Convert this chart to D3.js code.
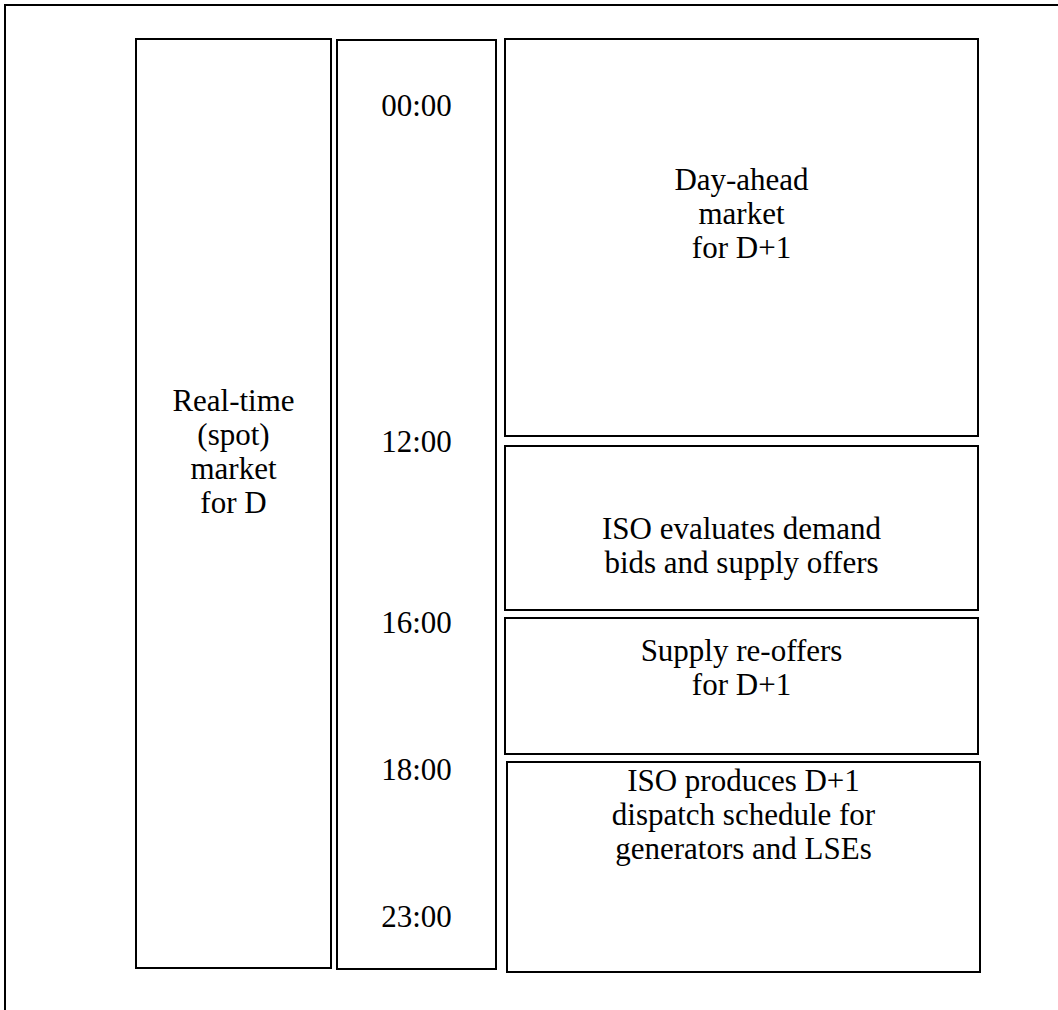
<!DOCTYPE html>
<html>
<head>
<meta charset="utf-8">
<script src="https://cdn.jsdelivr.net/npm/d3@7"></script>
<style>
  html, body { margin: 0; padding: 0; background: #fff; }
  svg { display: block; }
</style>
</head>
<body>
<svg id="chart" width="1058" height="1010"></svg>
<script>
"use strict";

// data
const timeLabels = ['00:00', '12:00', '16:00', '18:00', '23:00'];
const timeHours  = [0, 12, 16, 18, 23];
const spotLines  = ['Real-time', '(spot)', 'market', 'for D'];
const stageNames = ['dayAhead', 'evaluate', 'reoffer', 'dispatch'];
const stageLines = [
  ['Day-ahead', 'market', 'for D+1'],
  ['ISO evaluates demand', 'bids and supply offers'],
  ['Supply re-offers', 'for D+1'],
  ['ISO produces D+1', 'dispatch schedule for', 'generators and LSEs']
];

// layout (pixels)
const layout = {
  outer: { x: 5, y: 5, w: 1100, h: 1100 },
  spot:  { x0: 136, x1: 331, y0: 39, y1: 968, textTop: 411 },
  time:  { x0: 337, x1: 496, y0: 40, y1: 969 },
  stages: [
    { x0: 505, x1: 978, y0: 39,  y1: 436, textTop: 190 },
    { x0: 505, x1: 978, y0: 446, y1: 610, textTop: 539 },
    { x0: 505, x1: 978, y0: 618, y1: 754, textTop: 661 },
    { x0: 507, x1: 980, y0: 762, y1: 972, textTop: 791 }
  ],
  lineGap: 34
};

const FONT = '"Liberation Serif", serif';
const svg = d3.select('#chart');

function box(g, b) {
  g.append('rect')
    .attr('x', b.x0).attr('y', b.y0)
    .attr('width', b.x1 - b.x0).attr('height', b.y1 - b.y0)
    .attr('fill', 'none').attr('stroke', '#000').attr('stroke-width', 2);
}

function textBlock(g, lines, cx, top) {
  g.selectAll(null).data(lines).enter().append('text')
    .attr('x', cx)
    .attr('y', (d, i) => top + i * layout.lineGap)
    .attr('text-anchor', 'middle')
    .style('font-family', FONT)
    .style('font-size', '31px')
    .attr('fill', '#000')
    .text(d => d);
}

// outer frame
svg.append('rect')
  .attr('x', layout.outer.x).attr('y', layout.outer.y)
  .attr('width', layout.outer.w).attr('height', layout.outer.h)
  .attr('fill', 'none').attr('stroke', '#000').attr('stroke-width', 2);

// real-time column
const spotG = svg.append('g');
box(spotG, layout.spot);
textBlock(spotG, spotLines, (layout.spot.x0 + layout.spot.x1) / 2, layout.spot.textTop);

// time column
const timeG = svg.append('g');
box(timeG, layout.time);
const yTime = d3.scaleLinear().domain(timeHours).range([116, 452, 633, 780, 927]);
timeG.selectAll('text.time').data(timeLabels).enter().append('text')
  .attr('class', 'time')
  .attr('x', (layout.time.x0 + layout.time.x1) / 2)
  .attr('y', (d, i) => yTime(timeHours[i]))
  .attr('text-anchor', 'middle')
  .style('font-family', FONT)
  .style('font-size', '31px')
  .text(d => d);

// stage boxes
stageNames.forEach((name, i) => {
  const b = layout.stages[i];
  const g = svg.append('g').attr('class', 'stage-' + name);
  box(g, b);
  textBlock(g, stageLines[i], (b.x0 + b.x1) / 2, b.textTop);
});
</script>
</body>
</html>
